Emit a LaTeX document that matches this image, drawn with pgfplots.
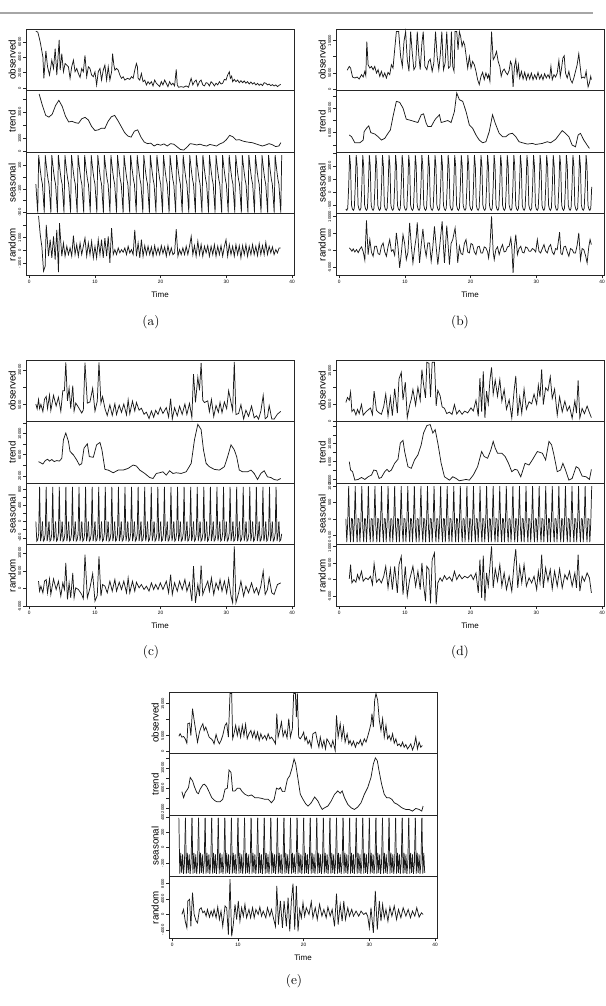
\documentclass[border=0pt]{standalone}
\usepackage{pgfplots}
\pgfplotsset{compat=1.18}
\usepackage{pgfplotstable}
\usepackage{fontspec}
\newfontfamily\hv{Liberation Sans}
\newcommand\tkf{\hv\fontsize{3.1}{3.5}\selectfont}
\newcommand\xkf{\hv\fontsize{3.6}{4}\selectfont}
\newcommand\lbf{\hv\fontsize{7.3}{8}\selectfont}
\pgfplotsset{
 dec/.style={
  scale only axis, width=201pt, height=46.2pt,
  xmin=-0.5, xmax=40.3, xtick=\empty,
  axis line style={line width=0.7pt, black!85},
  tick align=outside, ytick pos=left, xtick pos=bottom,
  major tick length=2.2pt, every tick/.style={black!85, line width=0.4pt},
  yticklabel style={font=\tkf, rotate=90, anchor=south, inner sep=1.2pt},
  every axis y label/.style={at={(axis description cs:-0.052,0.5)}, rotate=90, anchor=center, font=\lbf},
  /pgf/number format/assume math mode=true,
  scaled y ticks=false,
  cycle list={{black!90,solid}},
  every axis plot post/.append style={black!90, solid, line width=0.55pt, mark=none},
  anchor=north west,
 },
 bot/.style={xtick={0,10,20,30,40}, xticklabels={0,10,20,30,40},
   xticklabel style={font=\xkf, inner sep=1.2pt},
   xlabel={Time},
   every axis x label/.style={at={(axis description cs:0.5,-0.31)}, anchor=center, font=\hv\fontsize{6}{7}\selectfont}},
}
\pgfplotstableread{
t s
0 -60
0.142857 -180
0.285714 -300
0.428571 185
0.571429 110
0.714286 40
0.857143 -20
1 -60
}\seasA
\pgfplotstableread{
t s
0 -650
0.142857 -700
0.285714 -620
0.428571 200
0.571429 1430
0.714286 1000
0.857143 -500
1 -650
}\seasB
\pgfplotstableread{
t s
0 0
0.142857 -480
0.285714 -450
0.428571 -300
0.571429 860
0.714286 -480
0.857143 -350
1 0
}\seasC
\pgfplotstableread{
t s
0 0
0.142857 -700
0.285714 -100
0.428571 990
0.571429 -250
0.714286 -700
0.857143 10
1 0
}\seasD
\pgfplotstableread{
t s
0 393
0.142857 -340
0.285714 -70
0.428571 -330
0.571429 -90
0.714286 -345
0.857143 -200
1 393
}\seasE
\begin{document}
\begin{tikzpicture}
\path[use as bounding box] (0,0) rectangle (454.5pt,754.5pt);
\draw[gray!70, line width=1.1pt] (0,744.75pt) -- (444.75pt,744.75pt);

% ================= (a)
\begin{axis}[dec, at={(19.5pt,732.75pt)}, ymin=-300, ymax=7650, ytick={0,2000,4000,6000}, yticklabels={0,2000,4000,6000}, ylabel={observed}]
\addplot coordinates {(1,7350)(1.3,7250)(1.67,5960)(2.07,4040)(2.22,1280)(2.53,4810)(2.78,2770)(3.08,1700)(3.43,3620)(3.69,2550)(3.94,5110)(4.19,1700)(4.55,6250)(4.7,2340)(4.95,4470)(5.2,2130)(5.45,3190)(5.71,2980)(5.96,2770)(6.21,1280)(6.46,2770)(6.72,3620)(6.97,2130)(7.22,2550)(7.47,1910)(7.73,1400)(7.98,2550)(8.23,2130)(8.48,4250)(8.74,1490)(8.99,2770)(9.24,2550)(9.49,1700)(9.75,1490)(10,2130)(10.25,430)(10.5,2130)(10.76,2550)(11,1060)(11.26,2340)(11.51,2980)(11.77,1060)(12.02,2770)(12.27,1060)(12.53,2130)(12.68,4470)(12.88,2980)(13.03,2340)(13.28,2550)(13.54,2340)(13.79,1700)(14.04,1280)(14.29,1490)(14.55,1060)(14.95,1280)(15.3,1150)(15.56,1490)(15.81,1280)(16.06,2340)(16.31,3190)(16.46,2770)(16.57,1280)(16.82,1060)(17.07,1910)(17.32,850)(17.58,1060)(17.83,430)(18.08,850)(18.33,550)(18.59,850)(18.84,300)(19.09,1060)(19.34,640)(19.6,430)(19.85,210)(20.1,850)(20.35,430)(20.61,1060)(20.86,640)(21.11,210)(21.36,850)(21.62,430)(21.87,640)(22.12,300)(22.37,2430)(22.53,430)(22.73,130)(23.13,210)(23.48,130)(23.89,300)(24.24,130)(24.49,850)(24.64,1280)(24.9,430)(25.15,850)(25.4,1060)(25.65,300)(25.91,850)(26.16,1060)(26.41,430)(26.67,300)(26.92,720)(27.17,640)(27.42,300)(27.68,850)(27.93,640)(28.18,300)(28.43,640)(28.69,430)(28.94,850)(29.19,550)(29.44,640)(29.7,1150)(29.95,1060)(30.2,1700)(30.45,2130)(30.61,1280)(30.81,1570)(30.96,850)(31.21,1150)(31.46,850)(31.72,1060)(31.97,720)(32.22,980)(32.47,720)(32.73,940)(32.98,640)(33.23,850)(33.48,550)(33.74,810)(33.99,550)(34.24,720)(34.49,430)(34.75,640)(35,380)(35.25,550)(35.5,340)(35.76,720)(36.01,640)(36.26,430)(36.52,550)(36.77,340)(37.02,470)(37.27,300)(37.53,430)(37.78,210)(38.03,380)(38.28,510)};
\end{axis}
\begin{axis}[dec, at={(19.5pt,686.55pt)}, ymin=-50, ymax=4640, ytick={0,1000,2000,3000,4000}, yticklabels={0,1000,{},3000,{}}, ylabel={trend}]
\addplot coordinates {(1.5,4380)(2,3500)(2.5,2750)(3,2620)(3.5,2850)(4,3500)(4.5,3900)(5,3450)(5.5,2700)(6,2250)(6.5,2300)(7,2200)(7.5,2150)(8,2500)(8.5,2600)(9,2400)(9.5,1900)(10,1600)(10.5,1650)(11,1780)(11.5,1760)(12,2300)(12.5,2650)(13,2750)(13.5,2350)(14,1900)(14.5,1450)(15,1180)(15.5,1100)(16,1550)(16.5,1650)(17,1100)(17.5,720)(18,600)(18.5,640)(19,420)(19.5,560)(20,480)(20.5,580)(21,420)(21.5,600)(22,560)(22.5,360)(23,160)(23.5,110)(24,330)(24.5,600)(25,560)(25.5,500)(26,560)(26.5,470)(27,420)(27.5,540)(28,480)(28.5,420)(29,580)(29.5,680)(30,900)(30.5,1230)(31,1120)(31.5,880)(32,900)(32.5,800)(33,740)(33.5,700)(34,670)(34.5,580)(35,500)(35.5,420)(36,500)(36.5,600)(37,520)(37.5,380)(38,420)(38.3,680)};
\end{axis}
\begin{axis}[dec, at={(19.5pt,640.35pt)}, ymin=-310, ymax=210, ytick={-300,-200,-100,0,100}, yticklabels={-300,{},-100,{},100}, ylabel={seasonal}]
\pgfplotsinvokeforeach{1,...,37}{\addplot table[x expr=\thisrow{t}+#1, y=s]{\seasA};}
\addplot coordinates {(38,-60)(38.143,-180)(38.286,-300)(38.429,185)};
\end{axis}
\begin{axis}[dec, bot, at={(19.5pt,594.15pt)}, ymin=-1980, ymax=2870, ytick={-1000,0,1000,2000}, yticklabels={-1000,0,1000,{}}, ylabel={random}]
\addplot coordinates {(1.41,2700)(1.67,1220)(1.92,260)(2.17,-1640)(2.42,-1250)(2.58,2000)(2.93,-470)(3.18,830)(3.43,-600)(3.69,1090)(3.94,-730)(4.19,1610)(4.44,-1720)(4.6,2130)(4.95,-470)(5.2,570)(5.45,-470)(5.71,310)(5.96,-340)(6.21,180)(6.46,-470)(6.72,1140)(6.97,-340)(7.22,440)(7.47,-470)(7.73,570)(7.98,-340)(8.23,310)(8.48,960)(8.74,-470)(8.99,570)(9.24,-340)(9.49,700)(9.75,-600)(10,310)(10.25,-600)(10.5,830)(10.76,-340)(11,830)(11.26,-600)(11.51,960)(11.77,-470)(12.02,1090)(12.27,-990)(12.53,1740)(12.78,-340)(13.03,50)(13.28,-340)(13.54,180)(13.79,-210)(14.04,50)(14.29,-160)(14.55,180)(14.8,-340)(15.05,310)(15.3,-210)(15.56,50)(15.81,-340)(16.06,1610)(16.31,-470)(16.57,570)(16.82,-600)(17.07,830)(17.32,-470)(17.58,360)(17.83,-340)(18.08,310)(18.33,-340)(18.59,260)(18.84,-470)(19.09,360)(19.34,-340)(19.6,180)(19.85,-340)(20.1,360)(20.35,-260)(20.61,260)(20.86,-470)(21.11,360)(21.36,-340)(21.62,180)(21.87,-340)(22.12,-210)(22.37,1660)(22.63,-470)(22.88,50)(23.13,-340)(23.38,180)(23.64,-340)(23.89,310)(24.14,-340)(24.39,310)(24.65,1090)(24.9,-340)(25.15,360)(25.4,-470)(25.66,700)(25.91,-340)(26.16,440)(26.41,-470)(26.67,310)(26.92,-210)(27.17,360)(27.42,-470)(27.68,310)(27.93,-340)(28.18,440)(28.43,-470)(28.69,310)(28.94,-340)(29.19,360)(29.44,-470)(29.7,310)(29.95,830)(30.2,-470)(30.45,440)(30.71,-340)(30.96,310)(31.21,-470)(31.46,440)(31.72,-340)(31.97,360)(32.22,-600)(32.47,360)(32.73,-340)(32.98,440)(33.23,-470)(33.48,310)(33.74,-340)(33.99,440)(34.24,-340)(34.49,310)(34.75,-420)(35,520)(35.25,-340)(35.5,360)(35.76,-340)(36.01,620)(36.26,-340)(36.52,310)(36.77,-210)(37.02,260)(37.27,-340)(37.53,50)(37.78,-210)(38.03,180)(38.28,180)};
\end{axis}
\node[font=\fontsize{10}{11}\selectfont] at (113.25pt,513pt) {(a)};

% ================= (b)
\begin{axis}[dec, at={(252pt,732.75pt)}, ymin=-510, ymax=18580, ytick={0,5000,10000,15000}, yticklabels={0,5000,{},15000}, ylabel={observed}]
\addplot coordinates {(1.2,5800)(1.52,6980)(1.72,6470)(2.02,3700)(2.37,3390)(2.73,3700)(3.03,3080)(3.38,4420)(3.64,3700)(3.89,5440)(4.04,4110)(4.19,14690)(4.39,7500)(4.65,6470)(4.9,6980)(5.15,5960)(5.4,6980)(5.66,4930)(5.91,5960)(6.16,3900)(6.41,5440)(6.67,3700)(6.92,4930)(7.17,3390)(7.42,5140)(7.68,4420)(7.93,7500)(8.18,6470)(8.43,12120)(8.69,17770)(9.04,17770)(9.34,10060)(9.6,6980)(9.85,14690)(10.1,17770)(10.35,9040)(10.61,5440)(10.86,17770)(11.11,11090)(11.36,5960)(11.62,6980)(11.87,17770)(12.12,10060)(12.32,5960)(12.58,14170)(12.78,17770)(13.03,6980)(13.33,5960)(13.59,8520)(13.84,9240)(14.14,5440)(14.39,8010)(14.65,17770)(14.9,10060)(15.15,5960)(15.4,11090)(15.61,17770)(15.86,5960)(16.11,8010)(16.36,17770)(16.62,6470)(16.87,6980)(17.07,17770)(17.27,6980)(17.47,5440)(17.63,17770)(17.88,17770)(18.08,12120)(18.28,17770)(18.48,16230)(18.69,13150)(18.89,14690)(19.09,13660)(19.29,10580)(19.55,6470)(19.8,10060)(20.05,6470)(20.3,8520)(20.56,7500)(20.81,5440)(21.06,2880)(21.31,1340)(21.57,3900)(21.82,5140)(22.07,2880)(22.32,4930)(22.58,3390)(22.73,4420)(22.93,2360)(23.18,17770)(23.43,9040)(23.69,10060)(23.94,11610)(24.19,8520)(24.44,6980)(24.65,3900)(24.85,5440)(25.1,6160)(25.35,5140)(25.61,4420)(25.86,5750)(26.06,8520)(26.26,7500)(26.46,620)(26.67,6980)(26.87,9040)(27.07,4420)(27.27,7500)(27.47,3390)(27.73,5440)(27.98,3080)(28.23,5140)(28.48,2880)(28.74,4720)(28.99,3080)(29.24,4930)(29.49,2880)(29.75,4420)(30,3080)(30.25,5140)(30.51,3080)(30.76,4420)(31.01,2880)(31.26,4720)(31.52,3390)(31.77,4420)(32.02,3390)(32.22,6980)(32.42,2880)(32.68,4420)(32.93,3700)(33.18,4930)(33.43,8830)(33.64,3900)(33.84,6470)(34.04,9550)(34.24,10270)(34.44,4930)(34.7,3390)(34.95,5440)(35.2,2880)(35.45,1850)(35.71,3390)(35.96,5440)(36.21,7500)(36.46,10890)(36.67,6980)(36.87,3390)(37.12,3700)(37.37,3390)(37.58,5440)(37.73,2880)(37.88,620)(38.08,1850)(38.28,3900)(38.38,2880)};
\end{axis}
\begin{axis}[dec, at={(252pt,686.55pt)}, ymin=1230, ymax=16270, ytick={3000,6000,9000,12000,15000}, yticklabels={{},6000,{},12000,{}}, ylabel={trend}]
\addplot coordinates {(1.52,5420)(1.87,5010)(2.37,3530)(3.13,3530)(3.64,4190)(3.79,6250)(4.14,7070)(4.49,7650)(4.8,6000)(5.4,5670)(5.91,5010)(6.41,4190)(6.92,4600)(7.42,5840)(7.78,6660)(8.18,9950)(8.69,13640)(9.19,13400)(9.7,12000)(10.2,9290)(10.96,8960)(11.46,8710)(11.97,8470)(12.47,10360)(12.83,10600)(13.23,8300)(13.48,7480)(13.99,7480)(14.49,8960)(14.75,9540)(15.25,10360)(15.51,8470)(16.01,8710)(16.52,8960)(17.02,8470)(17.53,11180)(17.88,15700)(18.28,14050)(18.79,13640)(19.29,11180)(19.8,7890)(20.3,7070)(20.81,5420)(21.31,4190)(21.82,3530)(22.32,3780)(22.83,6250)(23.33,10360)(23.74,8300)(24.34,5840)(24.85,5010)(25.35,5010)(25.86,5670)(26.36,5840)(26.87,5010)(27.37,3780)(27.88,3530)(28.64,3210)(29.39,3370)(29.9,3120)(30.91,3370)(31.67,3780)(32.17,3530)(32.93,4360)(33.43,5420)(33.94,6500)(34.44,5840)(34.95,5010)(35.45,2960)(35.96,2550)(36.36,5420)(36.72,5840)(37.22,4190)(37.73,2960)(38.08,2140)};
\end{axis}
\begin{axis}[dec, at={(252pt,640.35pt)}, ymin=-833, ymax=1540, ytick={-500,0,500,1000,1500}, yticklabels={-500,0,500,1000,{}}, ylabel={seasonal}]
\pgfplotsinvokeforeach{1,...,37}{\addplot table[x expr=\thisrow{t}+#1, y=s]{\seasB};}
\addplot coordinates {(38,-650)(38.143,-700)(38.286,-620)(38.429,200)};
\end{axis}
\begin{axis}[dec, bot, at={(252pt,594.15pt)}, ymin=-7440, ymax=10800, ytick={-5000,0,5000,10000}, yticklabels={-5000,0,5000,10000}, ylabel={random}]
\addplot coordinates {(1.52,690)(1.72,300)(1.92,-300)(2.12,400)(2.37,-500)(2.63,200)(2.88,-700)(3.13,300)(3.38,1000)(3.64,-400)(3.89,-2960)(4.14,8870)(4.39,-1280)(4.65,3160)(4.9,-600)(5.15,-1770)(5.4,1200)(5.66,1180)(5.91,-1000)(6.16,-1280)(6.41,1200)(6.67,2170)(6.92,-500)(7.17,-1770)(7.42,1000)(7.68,3160)(7.93,-300)(8.18,200)(8.43,-1500)(8.69,5130)(8.94,1000)(9.19,-5230)(9.44,-1000)(9.7,4640)(9.95,2000)(10.2,-2760)(10.45,-600)(10.71,8090)(10.96,1500)(11.21,-3750)(11.46,500)(11.72,4000)(11.87,8280)(12.07,1000)(12.22,-3750)(12.47,1500)(12.73,6310)(12.98,1000)(13.23,-1770)(13.48,2170)(13.74,2170)(13.99,-3250)(14.24,1000)(14.49,7100)(14.75,1000)(15,-4240)(15.25,500)(15.66,8580)(15.86,1000)(16.01,-3750)(16.36,7300)(16.57,1500)(16.77,-4240)(17.02,2000)(17.27,3160)(17.63,6610)(17.88,1000)(18.03,-3750)(18.28,1180)(18.54,-1000)(18.79,-1280)(19.04,2000)(19.29,3160)(19.55,-500)(19.8,-790)(20.05,2000)(20.3,1680)(20.56,-500)(20.81,-1280)(21.06,1000)(21.31,1180)(21.57,-800)(21.82,-790)(22.07,1000)(22.32,690)(22.58,-500)(22.73,-2270)(22.93,1000)(23.18,10060)(23.43,-500)(23.59,-2760)(23.84,200)(24.09,1000)(24.34,-1280)(24.6,500)(24.85,1680)(25.1,-500)(25.35,-300)(25.61,1000)(25.86,1180)(26.11,3640)(26.26,1000)(26.46,-6700)(26.67,1000)(26.87,4640)(27.12,-1280)(27.37,500)(27.63,1180)(27.88,-600)(28.13,-790)(28.38,1000)(28.64,690)(28.89,-300)(29.14,-300)(29.39,500)(29.65,200)(29.9,-500)(30.15,3160)(30.4,-300)(30.66,-790)(30.91,500)(31.16,1680)(31.41,-200)(31.67,-790)(31.92,1000)(32.17,1680)(32.42,-500)(32.68,-1280)(32.93,500)(33.18,200)(33.54,5330)(33.74,-1000)(33.94,-1280)(34.19,1000)(34.44,1180)(34.7,-500)(34.95,-1770)(35.2,500)(35.45,200)(35.71,-800)(35.96,-790)(36.21,1500)(36.46,5130)(36.72,-2760)(36.97,500)(37.22,200)(37.48,-1500)(37.73,-3750)(37.98,1000)(38.18,3160)(38.38,1680)};
\end{axis}
\node[font=\fontsize{10}{11}\selectfont] at (345pt,513pt) {(b)};

% ================= (c)
\begin{axis}[dec, at={(19.5pt,484.5pt)}, ymin=150, ymax=17860, ytick={5000,10000,15000}, yticklabels={5000,{},15000}, ylabel={observed}]
\addplot coordinates {(1,5200)(1.2,3800)(1.41,6500)(1.57,3850)(1.77,5100)(2.07,3020)(2.32,6600)(2.58,7380)(2.78,3920)(3.08,7790)(3.28,3340)(3.69,7700)(4.09,4640)(4.44,7160)(4.8,3090)(5.1,8990)(5.35,9020)(5.56,17200)(5.81,6100)(6.06,9800)(6.31,3920)(6.62,10510)(6.82,3170)(7.07,5490)(7.47,4320)(7.98,2610)(8.23,3500)(8.48,17070)(8.84,5450)(9.24,5790)(9.65,9740)(10,3140)(10.35,6030)(10.61,17200)(10.91,5440)(11.16,7330)(11.52,3880)(11.87,1910)(12.27,4960)(12.63,1930)(13.03,5280)(13.28,2170)(13.69,4870)(14.04,2810)(14.39,5190)(14.8,2080)(15.05,6410)(15.3,2400)(15.71,6030)(16.06,3200)(16.31,5640)(16.72,3440)(17.07,4010)(17.47,2260)(17.83,2860)(18.23,1030)(18.59,3190)(18.94,1400)(19.24,3380)(19.6,2220)(19.95,4210)(20.35,2490)(20.86,4190)(21.21,1480)(21.52,6760)(21.77,900)(22.12,4110)(22.53,1810)(22.88,4560)(23.28,2230)(23.69,5210)(23.99,2200)(24.39,5390)(24.75,1340)(25,13790)(25.3,5670)(25.66,12920)(25.91,9140)(26.16,17000)(26.41,6310)(26.67,5620)(27.17,6110)(27.42,2980)(27.73,6500)(28.08,1590)(28.43,4770)(28.79,2840)(29.04,5700)(29.34,2700)(29.7,5790)(30.05,3830)(30.35,9020)(30.71,5730)(30.96,3370)(31.21,17300)(31.46,2170)(31.87,2480)(32.22,4990)(32.63,900)(32.98,3430)(33.38,1650)(33.84,4620)(34.24,1230)(34.6,1830)(34.9,850)(35.25,3110)(35.61,7680)(35.91,960)(36.26,1530)(36.52,4750)(36.92,900)(37.27,850)(37.78,2300)(38.28,3080)};
\end{axis}
\begin{axis}[dec, at={(19.5pt,438.3pt)}, ymin=600, ymax=12300, ytick={2000,4000,6000,8000,10000,12000}, yticklabels={2000,{},6000,{},10000,{}}, ylabel={trend}]
\addplot coordinates {(1.41,4690)(1.77,4450)(2.07,4240)(2.44,4900)(2.78,5140)(3.08,4800)(3.43,5100)(3.79,4700)(4.19,4900)(4.59,4800)(4.95,5330)(5.2,8850)(5.56,10130)(5.96,8530)(6.21,6610)(6.72,5970)(7.22,5010)(7.63,4050)(7.98,4300)(8.33,7250)(8.84,8080)(9.14,5650)(9.75,5520)(10.25,7890)(10.76,8340)(11.06,6930)(11.52,3220)(12.02,3090)(12.78,2580)(13.54,3090)(14.29,3090)(15.05,3410)(15.81,4050)(16.31,3860)(16.82,3090)(17.58,2450)(18.33,1680)(18.84,1490)(19.34,2450)(19.85,2580)(20.35,2770)(20.86,2130)(21.36,2960)(21.87,2450)(22.37,2580)(23.13,2450)(23.89,2770)(24.65,4370)(25.15,8850)(25.66,11790)(26.16,10770)(26.52,6930)(26.92,4370)(27.42,3730)(28.18,3220)(28.94,3090)(29.7,3730)(30.2,5650)(30.71,7890)(31.21,6930)(31.57,5650)(31.97,3090)(32.47,2770)(33.23,2770)(33.74,3090)(34.24,2450)(34.75,1300)(35.25,2450)(35.76,2960)(36.26,1810)(36.77,1680)(37.27,1300)(37.78,1170)(38.28,1490)};
\end{axis}
\begin{axis}[dec, at={(19.5pt,392.1pt)}, ymin=-572, ymax=950, ytick={-400,-200,0,200,400,600,800}, yticklabels={-400,{},0,{},400,{},800}, ylabel={seasonal}]
\pgfplotsinvokeforeach{1,...,37}{\addplot table[x expr=\thisrow{t}+#1, y=s]{\seasC};}
\addplot coordinates {(38,0)(38.143,-480)(38.286,-450)(38.429,-300)};
\end{axis}
\begin{axis}[dec, bot, at={(19.5pt,345.9pt)}, ymin=-5060, ymax=12360, ytick={-5000,0,5000,10000}, yticklabels={-5000,0,5000,10000}, ylabel={random}]
\addplot coordinates {(1.41,2060)(1.57,-750)(1.77,660)(2.07,-1220)(2.32,2060)(2.58,2530)(2.78,-1220)(3.08,2720)(3.28,-1690)(3.69,2720)(4.09,-280)(4.44,2060)(4.8,-2160)(5.1,1590)(5.35,-280)(5.56,7220)(5.81,-3100)(6.06,1590)(6.31,-2630)(6.62,4410)(6.82,-2630)(7.07,190)(7.47,-280)(7.98,-1690)(8.23,-2900)(8.48,9570)(8.84,-2630)(9.24,190)(9.65,4220)(10,-3560)(10.35,-1970)(10.61,9100)(10.91,-2160)(11.16,1130)(11.52,660)(11.87,-1220)(12.27,2060)(12.63,-750)(13.03,2530)(13.28,-750)(13.69,1780)(14.04,-280)(14.39,2060)(14.8,-1220)(15.05,3000)(15.3,-1220)(15.71,2060)(16.06,-750)(16.31,1780)(16.72,190)(17.07,1130)(17.47,-280)(17.83,660)(18.23,-750)(18.59,1590)(18.94,-280)(19.24,1130)(19.6,-280)(19.95,1590)(20.35,-280)(20.86,2060)(21.21,-1220)(21.52,3940)(21.77,-1690)(22.12,1590)(22.53,-750)(22.88,2060)(23.28,-280)(23.69,2530)(23.99,-750)(24.39,1590)(24.75,-3560)(25,6290)(25.3,-4030)(25.66,1130)(25.91,-2160)(26.16,6470)(26.41,-1690)(26.67,-280)(27.17,2060)(27.42,-750)(27.73,3000)(28.08,-1690)(28.43,1590)(28.79,-280)(29.04,2530)(29.34,-750)(29.7,2060)(30.05,-1220)(30.35,2720)(30.71,-2160)(30.96,-4030)(31.21,11910)(31.46,-4030)(31.87,-1220)(32.22,2060)(32.63,-2160)(32.98,660)(33.38,-1220)(33.84,1590)(34.24,-1220)(34.6,190)(34.9,-1690)(35.25,660)(35.61,4880)(35.91,-1690)(36.26,-280)(36.52,3000)(36.92,-1220)(37.27,-1690)(37.78,1130)(38.28,1590)};
\end{axis}
\node[font=\fontsize{10}{11}\selectfont] at (113.25pt,265.5pt) {(c)};

% ================= (d)
\begin{axis}[dec, at={(252pt,484.5pt)}, ymin=-180, ymax=18180, ytick={0,5000,10000,15000}, yticklabels={0,5000,{},15000}, ylabel={observed}]
\addplot coordinates {(1,5500)(1.25,7000)(1.52,6200)(1.72,8610)(1.92,2800)(2.22,3500)(2.53,1800)(2.78,3450)(3.03,2200)(3.38,4950)(3.64,1700)(4.04,2700)(4.39,3300)(4.75,3870)(5.05,1900)(5.3,8910)(5.66,3160)(6.06,2430)(6.41,2000)(6.77,4350)(7.07,8000)(7.42,1500)(7.78,7100)(8.08,1600)(8.43,9620)(8.84,2350)(9.09,12500)(9.44,14500)(9.7,6250)(10.05,11600)(10.35,1000)(10.71,4700)(10.96,6490)(11.21,9400)(11.62,4700)(11.97,10010)(12.32,6100)(12.58,15300)(12.83,10910)(13.13,6900)(13.33,17500)(13.64,17200)(13.89,7100)(14.14,17500)(14.49,17500)(14.75,4500)(15,9150)(15.35,7500)(15.66,4200)(16.01,3800)(16.36,2200)(16.77,2650)(17.17,1950)(17.53,4900)(17.88,2100)(18.28,3200)(18.69,2000)(19.09,2940)(19.55,2420)(20.05,3900)(20.4,2980)(20.81,6200)(21.16,1400)(21.41,12800)(21.67,2760)(21.92,14800)(22.17,900)(22.42,8870)(22.68,5100)(22.93,12100)(23.18,16000)(23.43,8030)(23.74,12220)(24.09,7390)(24.44,12390)(24.75,5890)(25.1,9350)(25.45,3500)(25.86,6300)(26.26,900)(26.62,9150)(26.87,13400)(27.17,1500)(27.47,7100)(27.78,2300)(28.13,9500)(28.48,3500)(28.89,5740)(29.29,5100)(29.65,8000)(30.05,5000)(30.3,10700)(30.56,7100)(30.81,15400)(31.06,4900)(31.41,9880)(31.77,9000)(32.12,13200)(32.42,6700)(32.78,9500)(33.18,1740)(33.54,7200)(33.94,2700)(34.34,5900)(34.7,3000)(35.05,4400)(35.45,800)(35.86,6000)(36.11,2370)(36.36,12100)(36.62,900)(36.97,3750)(37.32,2170)(37.73,4450)(38.08,2500)(38.38,1000)};
\end{axis}
\begin{axis}[dec, at={(252pt,438.3pt)}, ymin=1160, ymax=14970, ytick={2000,4000,6000,8000,10000,12000,14000}, yticklabels={2000,{},6000,{},10000,{},{}}, ylabel={trend}]
\addplot coordinates {(1.52,6000)(1.72,4110)(2.02,3740)(2.37,1850)(2.88,2000)(3.38,2450)(3.89,2000)(4.39,2600)(4.9,2980)(5.25,4110)(5.66,3960)(6.06,2230)(6.41,2450)(6.92,3740)(7.27,4260)(7.58,3740)(7.93,4110)(8.43,5620)(8.94,6530)(9.29,10150)(9.7,10750)(9.95,8260)(10.45,4870)(10.96,4490)(11.46,6380)(11.97,7510)(12.47,9770)(12.83,12410)(13.33,14080)(13.84,14300)(14.24,12410)(14.6,13170)(15,10150)(15.51,5620)(16.01,2600)(16.77,1850)(17.27,2600)(17.78,2230)(18.28,1700)(18.79,1850)(19.29,2000)(19.8,1850)(20.4,2980)(21.06,4870)(21.67,8260)(22.07,7130)(22.58,6750)(23.08,8640)(23.43,10530)(23.74,9020)(24.09,7890)(24.75,7890)(25.25,7130)(25.76,5620)(26.26,3740)(26.72,4260)(27.12,4110)(27.63,2600)(28.28,5620)(28.89,5240)(29.39,6380)(30.15,8260)(30.91,7890)(31.41,6380)(31.92,10530)(32.32,9770)(32.68,7510)(33.18,3740)(33.69,4110)(34.04,5620)(34.44,4110)(34.95,1850)(35.45,2230)(36.06,4870)(36.46,4490)(36.97,2750)(37.58,2600)(38.08,2000)(38.38,4260)};
\end{axis}
\begin{axis}[dec, at={(252pt,392.1pt)}, ymin=-780, ymax=1080, ytick={-500,0,500,1000}, yticklabels={-500,0,500,1000}, ylabel={seasonal}]
\pgfplotsinvokeforeach{1,...,37}{\addplot table[x expr=\thisrow{t}+#1, y=s]{\seasD};}
\addplot coordinates {(38,0)(38.143,-700)(38.286,-100)(38.429,990)};
\end{axis}
\begin{axis}[dec, bot, at={(252pt,345.9pt)}, ymin=-8080, ymax=10480, ytick={-5000,0,5000,10000}, yticklabels={-5000,0,5000,10000}, ylabel={random}]
\addplot coordinates {(1.52,200)(1.72,4500)(1.92,-1000)(2.22,0)(2.53,-800)(2.78,1500)(3.03,0)(3.38,2500)(3.64,-500)(4.04,500)(4.39,0)(4.75,1000)(5.05,-1500)(5.3,4800)(5.66,-800)(6.06,200)(6.41,-1000)(6.77,1000)(7.07,4000)(7.42,-2500)(7.78,3200)(8.08,-3000)(8.43,4000)(8.84,-4000)(9.09,4500)(9.44,7000)(9.7,-4500)(10.05,4000)(10.35,-5000)(10.71,0)(10.96,2000)(11.21,4000)(11.62,-2000)(11.97,2500)(12.32,-3000)(12.58,5000)(12.83,-1500)(13.13,-6500)(13.33,4000)(13.64,3000)(13.89,-7200)(14.14,6000)(14.49,8000)(14.75,-7500)(15,-1000)(15.35,500)(15.66,-500)(16.01,1200)(16.36,0)(16.77,800)(17.17,-500)(17.53,2500)(17.88,0)(18.28,1500)(18.69,200)(19.09,1000)(19.55,500)(20.05,1500)(20.4,0)(20.81,2000)(21.16,-4000)(21.41,6000)(21.67,-5500)(21.92,7200)(22.17,-6500)(22.42,2000)(22.68,-2000)(22.93,4000)(23.18,10000)(23.43,-2500)(23.74,3200)(24.09,-500)(24.44,4500)(24.75,-2000)(25.1,2000)(25.45,-3000)(25.86,1000)(26.26,-3500)(26.62,5000)(26.87,9200)(27.17,-2500)(27.47,4000)(27.78,-1000)(28.13,4500)(28.48,-2000)(28.89,500)(29.29,-1000)(29.65,1000)(30.05,-3000)(30.3,2500)(30.56,-1000)(30.81,7500)(31.06,-2500)(31.41,3500)(31.77,-500)(32.12,3000)(32.42,-2800)(32.78,2500)(33.18,-2000)(33.54,3200)(33.94,-2500)(34.34,1500)(34.7,0)(35.05,2500)(35.45,-2000)(35.86,2000)(36.11,-2500)(36.36,7500)(36.62,-3500)(36.97,1000)(37.32,-500)(37.73,2000)(38.08,500)(38.38,-4000)};
\end{axis}
\node[font=\fontsize{10}{11}\selectfont] at (345pt,265.5pt) {(d)};

% ================= (e)
\begin{axis}[dec, at={(126.75pt,235.5pt)}, ymin=-630, ymax=18670, ytick={0,5000,10000,15000}, yticklabels={0,5000,{},15000}, ylabel={observed}]
\addplot coordinates {(1,4800)(1.2,5600)(1.46,4530)(1.72,4740)(1.97,4000)(2.22,2630)(2.37,8740)(2.63,8950)(2.83,5050)(3.08,13470)(3.33,9790)(3.64,5580)(3.84,2950)(4.14,6100)(4.39,7680)(4.65,8740)(4.85,6630)(5.1,7680)(5.35,6100)(5.61,4530)(5.91,4000)(6.16,3470)(6.36,2420)(6.67,5370)(6.92,3470)(7.17,2420)(7.42,3470)(7.68,5050)(8.03,8210)(8.28,8950)(8.54,4530)(8.79,18210)(9.04,18210)(9.19,4000)(9.39,5580)(9.65,8210)(9.9,5050)(10.15,7680)(10.4,4530)(10.66,8210)(10.91,5050)(11.16,8530)(11.41,4000)(11.67,5580)(11.97,6630)(12.22,4530)(12.47,6420)(12.73,4000)(12.98,6100)(13.23,3470)(13.48,5580)(13.74,4000)(14.09,5050)(14.34,3680)(14.6,5580)(14.85,4000)(15.1,4530)(15.45,3470)(15.71,2420)(15.91,11890)(16.11,4530)(16.36,6630)(16.62,9260)(16.87,4740)(17.17,6630)(17.47,4320)(17.73,10320)(17.98,4530)(18.28,7160)(18.48,18210)(18.74,18210)(18.89,10840)(19.04,18210)(19.24,4530)(19.49,4000)(19.8,5050)(20,6100)(20.2,3470)(20.4,4530)(20.66,2420)(20.91,3470)(21.16,1370)(21.41,5580)(21.82,6100)(22.07,3470)(22.32,1370)(22.53,4530)(22.83,1370)(23.08,3470)(23.33,840)(23.54,3990)(23.84,2950)(24.19,1370)(24.44,3470)(24.8,320)(25,11370)(25.25,4530)(25.56,8740)(25.81,4000)(26.06,7680)(26.31,2950)(26.62,5580)(26.87,2420)(27.07,3470)(27.32,1900)(27.58,3260)(27.88,1370)(28.13,2950)(28.38,2420)(28.64,3680)(28.89,1900)(29.24,4000)(29.49,2950)(29.75,4740)(30,6630)(30.25,8740)(30.4,11890)(30.61,7680)(30.81,16110)(31.01,18210)(31.26,16110)(31.52,9790)(31.77,6630)(32.02,10320)(32.27,4530)(32.53,8210)(32.78,4000)(33.03,5050)(33.28,3470)(33.54,5580)(33.79,2630)(34.04,4000)(34.29,1900)(34.55,2420)(34.8,1580)(35.05,2950)(35.3,1370)(35.56,2210)(35.81,840)(36.06,1580)(36.31,2420)(36.57,530)(36.82,1900)(37.07,4530)(37.32,840)(37.58,2950)(37.83,1370)(38.08,1900)};
\end{axis}
\begin{axis}[dec, at={(126.75pt,189.3pt)}, ymin=660, ymax=12860, ytick={2000,4000,6000,8000,10000,12000}, yticklabels={2000,{},6000,{},10000,{}}, ylabel={trend}]
\addplot coordinates {(1.46,5330)(1.72,4130)(1.97,5130)(2.22,5600)(2.47,6130)(2.73,8130)(3.08,7470)(3.38,6270)(3.74,5130)(3.99,4930)(4.24,5800)(4.65,6670)(4.9,6800)(5.25,6270)(5.66,5130)(6.01,4130)(6.41,3600)(6.77,3330)(7.27,3330)(7.68,3800)(8.03,5800)(8.38,6000)(8.64,9600)(8.94,9130)(9.19,5470)(9.55,5470)(9.9,6000)(10.3,6000)(10.56,5470)(11.06,4800)(11.57,4470)(12.07,4670)(12.58,4130)(13.08,4130)(13.59,4000)(14.09,3800)(14.6,3800)(15.1,3130)(15.51,3800)(15.86,6000)(16.21,5800)(16.46,6130)(16.77,5330)(17.12,5330)(17.53,7800)(17.88,8470)(18.23,10000)(18.54,11800)(18.79,10800)(19.14,7800)(19.49,4800)(19.9,3800)(20.3,2930)(20.66,2470)(21.16,3130)(21.67,4270)(22.17,3470)(22.53,2470)(22.83,1800)(23.18,2130)(23.69,2470)(24.19,3470)(24.7,4800)(25.2,5470)(25.56,5000)(25.86,5470)(26.21,4130)(26.72,2800)(27.22,2130)(27.73,1800)(28.23,2270)(28.74,3130)(29.24,4800)(29.75,6130)(30.25,8130)(30.61,10800)(30.91,12000)(31.21,11470)(31.52,9130)(31.87,6800)(32.27,4800)(32.63,4130)(33.03,4130)(33.43,3800)(33.79,3130)(34.29,2800)(34.8,2270)(35.15,2000)(35.56,1800)(36.06,1800)(36.57,1470)(37.07,2000)(37.58,1800)(37.98,1470)(38.18,2470)};
\end{axis}
\begin{axis}[dec, at={(126.75pt,143.1pt)}, ymin=-383, ymax=427, ytick={-200,0,200,400}, yticklabels={-200,0,200,400}, ylabel={seasonal}]
\pgfplotsinvokeforeach{1,...,37}{\addplot table[x expr=\thisrow{t}+#1, y=s]{\seasE};}
\addplot coordinates {(38,393)(38.143,-340)(38.286,-70)(38.429,-330)};
\end{axis}
\begin{axis}[dec, bot, at={(126.75pt,96.9pt)}, ymin=-6200, ymax=9750, ytick={-4000,0,4000,8000}, yticklabels={-4000,0,4000,8000}, ylabel={random}]
\addplot coordinates {(1.46,0)(1.72,1300)(1.97,-1740)(2.22,-3480)(2.37,3480)(2.63,3920)(2.83,-3050)(3.08,5660)(3.33,0)(3.64,-1740)(3.84,-2180)(4.14,1300)(4.39,1740)(4.65,440)(4.9,870)(5.15,-440)(5.35,1300)(5.66,-700)(5.91,870)(6.16,-440)(6.36,1300)(6.67,-870)(6.92,1920)(7.17,-1300)(7.42,870)(7.68,-3050)(8.03,2180)(8.28,1740)(8.54,-5220)(8.79,9140)(9.04,-5660)(9.29,-2610)(9.55,2610)(9.8,-1300)(10.05,3480)(10.3,-1740)(10.56,1740)(10.81,-440)(11.06,2610)(11.31,-870)(11.67,1300)(11.92,-870)(12.22,1740)(12.47,-870)(12.73,1300)(13.08,0)(13.33,1920)(13.59,-440)(13.84,870)(14.24,-870)(14.49,1740)(14.85,-440)(15.1,1300)(15.45,-1300)(15.71,-3050)(15.91,7400)(16.16,-2610)(16.46,3480)(16.77,-3480)(17.02,3480)(17.37,-3050)(17.63,4350)(17.88,-4350)(18.13,3480)(18.38,8000)(18.64,-3920)(18.89,7400)(19.14,-4350)(19.39,1300)(19.65,-870)(19.9,3050)(20.15,-440)(20.4,1740)(20.81,0)(21.16,3310)(21.41,-870)(21.77,1740)(22.07,-1300)(22.42,2610)(22.78,-440)(23.08,1300)(23.43,-870)(23.69,1920)(24.04,-440)(24.34,1300)(24.7,-3050)(25,5400)(25.25,-2610)(25.56,2610)(25.86,-1740)(26.11,3480)(26.36,-1300)(26.72,1740)(26.97,-440)(27.32,1300)(27.58,-440)(27.98,870)(28.38,-440)(28.74,870)(29.14,0)(29.49,440)(29.75,-440)(30,-3480)(30.25,1740)(30.61,-4790)(30.91,6090)(31.21,-3920)(31.52,3480)(31.77,-1740)(32.02,2610)(32.27,-870)(32.53,1300)(32.83,-1740)(33.13,1920)(33.43,-440)(33.79,2180)(34.14,-1300)(34.44,1300)(34.8,-870)(35.15,1740)(35.56,-440)(35.91,1300)(36.26,-870)(36.57,870)(36.92,-440)(37.22,1740)(37.58,-700)(37.93,440)(38.18,0)};
\end{axis}
\node[font=\fontsize{10}{11}\selectfont] at (220.5pt,18.75pt) {(e)};
\end{tikzpicture}
\end{document}
